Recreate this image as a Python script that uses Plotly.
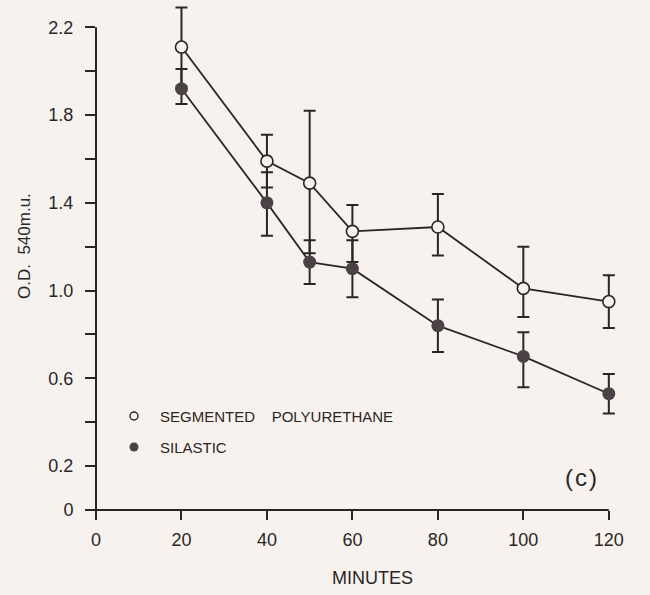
import plotly.graph_objects as go

# Sampling times (minutes)
minutes = [20, 40, 50, 60, 80, 100, 120]

# Segmented polyurethane: mean optical density and error bar extents
pu_mean = [2.11, 1.59, 1.49, 1.27, 1.29, 1.01, 0.95]
pu_err_up = [0.18, 0.12, 0.33, 0.12, 0.15, 0.19, 0.12]
pu_err_down = [0.18, 0.12, 0.32, 0.14, 0.13, 0.13, 0.12]

# Silastic: mean optical density and error bar extents
si_mean = [1.92, 1.40, 1.13, 1.10, 0.84, 0.70, 0.53]
si_err_up = [0.09, 0.14, 0.10, 0.13, 0.12, 0.11, 0.09]
si_err_down = [0.07, 0.15, 0.10, 0.13, 0.12, 0.14, 0.09]

# Axis ticks
x_ticks = [0, 20, 40, 60, 80, 100, 120]
x_tick_text = ["0", "20", "40", "60", "80", "100", "120"]
y_ticks = [0, 0.2, 0.4, 0.6, 0.8, 1.0, 1.2, 1.4, 1.6, 1.8, 2.0, 2.2]
y_tick_text = ["0", "0.2", "", "0.6", "", "1.0", "", "1.4", "", "1.8", "", "2.2"]

INK = "#2b2626"
DARK_FILL = "#4a4244"
BG = "#f7f2ed"
FONT = "Liberation Sans"

X_RANGE = [0, 128]
Y_RANGE = [0, 2.32]
W, H = 650, 595
M_L, M_R, M_T, M_B = 96, 7, 1, 85
PLOT_W = W - M_L - M_R
PLOT_H = H - M_T - M_B


def px_x(px):
    """Horizontal page pixel -> paper coordinate."""
    return (px - M_L) / PLOT_W


def px_y(py):
    """Vertical page pixel -> paper coordinate."""
    return (H - M_B - py) / PLOT_H


def data_x(v):
    return (v - X_RANGE[0]) / (X_RANGE[1] - X_RANGE[0])


def data_y(v):
    return (v - Y_RANGE[0]) / (Y_RANGE[1] - Y_RANGE[0])


fig = go.Figure()

fig.add_trace(go.Scatter(
    x=minutes, y=pu_mean, mode="lines+markers", name="SEGMENTED POLYURETHANE",
    line=dict(color=INK, width=1.8),
    marker=dict(symbol="circle", size=12, color=BG, line=dict(color=INK, width=1.6)),
    error_y=dict(type="data", symmetric=False, array=pu_err_up, arrayminus=pu_err_down,
                 color=INK, thickness=2, width=6),
))

fig.add_trace(go.Scatter(
    x=minutes, y=si_mean, mode="lines+markers", name="SILASTIC",
    line=dict(color=INK, width=1.8),
    marker=dict(symbol="circle", size=13, color=DARK_FILL, line=dict(color=DARK_FILL, width=0)),
    error_y=dict(type="data", symmetric=False, array=si_err_up, arrayminus=si_err_down,
                 color=INK, thickness=2, width=6),
))

shapes = [
    # y axis line, crossing slightly below the x axis
    dict(type="line", xref="paper", yref="paper", x0=0, x1=0,
         y0=px_y(518), y1=data_y(2.2), line=dict(color=INK, width=2)),
    # x axis line, starting slightly left of the y axis
    dict(type="line", xref="paper", yref="paper", x0=px_x(86), x1=data_x(120),
         y0=0, y1=0, line=dict(color=INK, width=2)),
    # key symbols
    dict(type="circle", xref="paper", yref="paper", xsizemode="pixel", ysizemode="pixel",
         xanchor=px_x(134), yanchor=px_y(416), x0=-4, x1=4, y0=-4, y1=4,
         line=dict(color=INK, width=1.4), fillcolor=BG),
    dict(type="circle", xref="paper", yref="paper", xsizemode="pixel", ysizemode="pixel",
         xanchor=px_x(134), yanchor=px_y(447), x0=-4.5, x1=4.5, y0=-4.5, y1=4.5,
         line=dict(color=DARK_FILL, width=0), fillcolor=DARK_FILL),
]

annotations = [
    dict(text="SEGMENTED\u00a0\u00a0\u00a0\u00a0POLYURETHANE", xref="paper", yref="paper",
         x=px_x(158), y=px_y(416), xanchor="left", yanchor="middle", showarrow=False,
         font=dict(family=FONT, size=15, color=INK)),
    dict(text="SILASTIC", xref="paper", yref="paper",
         x=px_x(158), y=px_y(447), xanchor="left", yanchor="middle", showarrow=False,
         font=dict(family=FONT, size=15, color=INK)),
    dict(text="(\u200ac\u200a)", xref="paper", yref="paper",
         x=px_x(581), y=px_y(477), xanchor="center", yanchor="middle", showarrow=False,
         font=dict(family=FONT, size=24, color=INK)),
    dict(text="MINUTES", xref="paper", yref="paper",
         x=px_x(372), y=px_y(578), xanchor="center", yanchor="middle", showarrow=False,
         font=dict(family=FONT, size=18, color=INK)),
    dict(text="O.D.\u00a0\u00a0540m.u.", xref="paper", yref="paper", textangle=-90,
         x=px_x(24), y=px_y(246), xanchor="center", yanchor="middle", showarrow=False,
         font=dict(family=FONT, size=17, color=INK)),
]

fig.update_layout(
    width=W, height=H,
    margin=dict(l=M_L, r=M_R, t=M_T, b=M_B, pad=0),
    paper_bgcolor=BG, plot_bgcolor=BG,
    showlegend=False,
    shapes=shapes,
    annotations=annotations,
    font=dict(family=FONT, color=INK),
)

fig.update_xaxes(
    range=X_RANGE, showgrid=False, zeroline=False, showline=False,
    tickmode="array", tickvals=x_ticks, ticktext=x_tick_text,
    ticks="outside", ticklen=9, tickwidth=1.6, tickcolor=INK,
    tickfont=dict(family=FONT, size=18, color=INK), ticklabelstandoff=4,
)
fig.update_yaxes(
    range=Y_RANGE, showgrid=False, zeroline=False, showline=False,
    tickmode="array", tickvals=y_ticks, ticktext=y_tick_text,
    ticks="outside", ticklen=10, tickwidth=1.6, tickcolor=INK,
    tickfont=dict(family=FONT, size=18, color=INK), ticklabelstandoff=8,
)

fig.write_html("out.html")
